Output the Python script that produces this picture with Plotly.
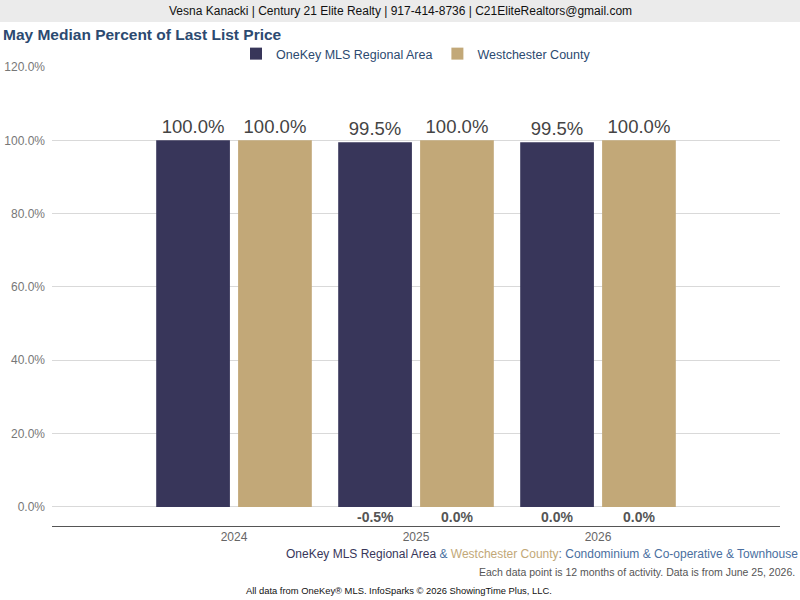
import plotly.graph_objects as go

# Data
years = ["2024", "2025", "2026"]
onekey_vals = [100.0, 99.5, 99.5]
westchester_vals = [100.0, 100.0, 100.0]
onekey_change = ["", "-0.5%", "0.0%"]
westchester_change = ["", "0.0%", "0.0%"]
y_ticks = [0, 20, 40, 60, 80, 100, 120]

navy = "#38365a"
tan = "#c2a878"
title_blue = "#2c4a70"
W, H = 800, 600
L, R, T, B = 52, 20, 67, 74
pw, ph = W - L - R, H - T - B

fig = go.Figure()

fig.add_trace(go.Bar(
    x=years, y=onekey_vals, name="OneKey MLS Regional Area",
    marker=dict(color=navy, line=dict(width=0)),
    text=[f"{v:.1f}%" for v in onekey_vals], textposition="outside",
    textfont=dict(size=18.5, color="#444444"),
    cliponaxis=False, hoverinfo="skip",
))
fig.add_trace(go.Bar(
    x=years, y=westchester_vals, name="Westchester County",
    marker=dict(color=tan, line=dict(width=0)),
    text=[f"{v:.1f}%" for v in westchester_vals], textposition="outside",
    textfont=dict(size=18.5, color="#444444"),
    cliponaxis=False, hoverinfo="skip",
))

annotations = []
# change labels under each bar
for i, yr in enumerate(years):
    for lab, shift in ((onekey_change[i], -41), (westchester_change[i], 41)):
        if lab:
            annotations.append(dict(
                x=i, y=-2.7, xref="x", yref="y", text=f"<b>{lab}</b>",
                showarrow=False, xshift=shift,
                font=dict(size=14, color="#555555"),
            ))

# grey header band
fig.add_shape(type="rect", xref="paper", yref="paper", layer="above",
              x0=-L / pw, x1=(pw + R) / pw, y0=1 + 45 / ph, y1=1 + 67 / ph,
              fillcolor="#ebebeb", line=dict(width=0))

annotations += [
    dict(x=(W / 2 - L) / pw, xref="paper", y=1 + 56 / ph, yref="paper", xanchor="center", yanchor="middle",
         text="Vesna Kanacki | Century 21 Elite Realty | 917-414-8736 | C21EliteRealtors@gmail.com",
         showarrow=False, font=dict(size=12, color="#111111")),
    dict(x=-51 / pw, xref="paper", y=1 + 32 / ph, yref="paper", xanchor="left", yanchor="middle",
         text="<b>May Median Percent of Last List Price</b>",
         showarrow=False, font=dict(size=15.5, color=title_blue)),
    dict(x=(pw + R) / pw, xref="paper", y=-28 / ph, yref="paper", xanchor="right", yanchor="middle",
         text=(f"<span style='color:{navy}'>OneKey MLS Regional Area</span>"
               f"<span style='color:#4a6fa0'> & </span>"
               f"<span style='color:{tan}'>Westchester County</span>"
               f"<span style='color:#4a6fa0'>: Condominium & Co-operative & Townhouse</span>"),
         showarrow=False, font=dict(size=12)),
    dict(x=(pw + R - 3) / pw, xref="paper", y=-46 / ph, yref="paper", xanchor="right", yanchor="middle",
         text="Each data point is 12 months of activity. Data is from June 25, 2026.",
         showarrow=False, font=dict(size=10.5, color="#555555")),
    dict(x=(399 - L) / pw, xref="paper", y=-64 / ph, yref="paper", xanchor="center", yanchor="middle",
         text="All data from OneKey® MLS. InfoSparks © 2026 ShowingTime Plus, LLC.",
         showarrow=False, font=dict(size=9.4, color="#111111")),
]

fig.update_layout(
    width=W, height=H,
    margin=dict(l=L, r=R, t=T, b=B, autoexpand=False),
    paper_bgcolor="white", plot_bgcolor="white",
    font=dict(family="Liberation Sans, Arial", color="#555555"),
    barmode="group", bargap=0.1, bargroupgap=0.1,
    showlegend=True,
    legend=dict(orientation="h", x=0.5, xanchor="center", y=1 + 13 / ph, yanchor="middle",
                font=dict(size=12.5, color=title_blue), traceorder="normal"),
    xaxis=dict(type="category", range=[-1, 3], showgrid=False, ticks="", showline=True,
               linecolor="#555555", linewidth=1, automargin=False,
               tickfont=dict(size=12, color="#666666"), fixedrange=True),
    yaxis=dict(range=[-5.2, 120], tickvals=y_ticks, automargin=False,
               ticktext=[f"{v:.1f}%" for v in y_ticks],
               gridcolor="#d9d9d9", zeroline=False, showline=False,
               tickfont=dict(size=12, color="#777777"), ticks="", ticklabelstandoff=6),
    annotations=annotations,
)

fig.write_html("out.html", config={"displayModeBar": False},
               post_script="document.body.style.margin='0';")
